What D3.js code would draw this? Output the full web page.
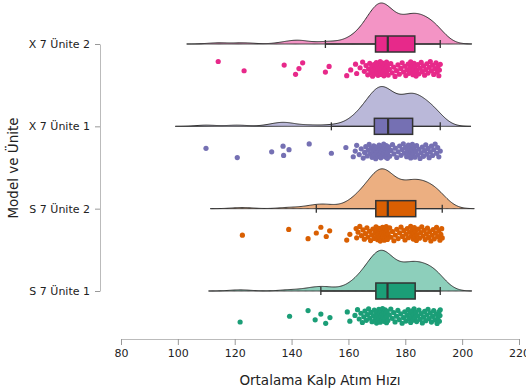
<!DOCTYPE html>
<html>
<head>
<meta charset="utf-8">
<script src="https://cdn.jsdelivr.net/npm/d3@7"></script>
<style>
  body { margin: 0; background: #fff; }
  text { font-family: "DejaVu Sans", sans-serif; }
</style>
</head>
<body>
<svg id="chart" width="526" height="389"></svg>
<script>
// groups, top to bottom
const categories = ["X 7 Ünite 2", "X 7 Ünite 1", "S 7 Ünite 2", "S 7 Ünite 1"];
const colors = ["#e7298a", "#7570b3", "#d95f02", "#1b9e77"];
const xTicks = [80, 100, 120, 140, 160, 180, 200, 220];

// average heart rate per student
const x7u2 = [114.2, 123.3, 137.4, 141.4, 142.6, 143.9, 151.9, 153.2, 159.4, 160.8, 162.5, 162.9,
  164.1, 165.0, 165.6, 166.2, 166.8, 167.1, 167.5, 167.9, 168.2, 168.5, 168.8, 169.0, 169.3,
  169.6, 169.8, 170.0, 170.2, 170.4, 170.5, 170.7, 170.9, 171.0, 171.2, 171.3, 171.5, 171.6,
  171.8, 172.0, 172.1, 172.3, 172.5, 172.7, 172.8, 173.0, 173.2, 173.4, 173.5, 173.7,
  174.0, 174.4, 174.9, 175.4, 175.9, 176.4, 176.9, 177.4, 177.9, 178.4, 178.9, 179.4, 179.8,
  180.2, 180.6, 181.0, 181.3, 181.6, 181.9, 182.2, 182.5, 182.7, 182.9, 183.1, 183.3,
  183.5, 183.8, 184.1, 184.4, 184.8, 185.2, 185.6, 186.0, 186.4, 186.8, 187.2, 187.6, 188.0,
  188.4, 188.8, 189.2, 189.6, 190.0, 190.4, 190.8, 191.2, 191.5, 191.8, 192.0, 192.3];

const x7u1 = [109.9, 120.9, 133.0, 137.0, 137.2, 139.1, 146.2, 154.0, 159.1, 161.7, 162.4, 162.9,
  163.8, 164.5, 165.2, 165.7, 166.1, 166.6, 167.0, 167.3, 167.7, 168.0, 168.3, 168.6, 168.9,
  169.2, 169.4, 169.6, 169.9, 170.1, 170.3, 170.6, 170.8, 171.0, 171.2, 171.4, 171.6, 171.8,
  172.0, 172.2, 172.4, 172.6, 172.8, 173.0, 173.1, 173.3, 173.5, 173.6, 173.7, 173.8,
  174.1, 174.5, 175.0, 175.5, 176.0, 176.5, 177.0, 177.5, 178.0, 178.5, 178.9, 179.3, 179.7,
  180.1, 180.5, 180.8, 181.1, 181.4, 181.7, 181.9, 182.1, 182.2, 182.3, 182.4, 182.5,
  182.8, 183.1, 183.4, 183.7, 184.0, 184.4, 184.8, 185.2, 185.6, 186.0, 186.4, 186.8, 187.2,
  187.6, 188.0, 188.4, 188.8, 189.2, 189.6, 190.0, 190.5, 191.0, 191.4, 191.8, 192.3];

const s7u2 = [122.7, 139.0, 145.8, 148.7, 150.3, 152.2, 153.4, 159.4, 160.5, 162.7, 162.9,
  163.4, 164.0, 164.6, 165.1, 165.6, 166.0, 166.5, 166.9, 167.4, 167.8, 168.2, 168.6, 169.0, 169.4,
  169.7, 169.9, 170.1, 170.3, 170.5, 170.7, 170.9, 171.0, 171.2, 171.4, 171.5, 171.7, 171.9,
  172.0, 172.2, 172.4, 172.6, 172.7, 172.9, 173.0, 173.2, 173.3, 173.5, 173.6, 173.7,
  174.0, 174.5, 175.0, 175.5, 176.0, 176.5, 177.0, 177.5, 178.0, 178.5, 179.0, 179.5, 179.9,
  180.3, 180.7, 181.1, 181.5, 181.9, 182.2, 182.5, 182.8, 183.0, 183.2, 183.4, 183.6,
  183.9, 184.2, 184.6, 185.0, 185.4, 185.8, 186.2, 186.6, 187.0, 187.4, 187.8, 188.2, 188.6,
  189.0, 189.4, 189.8, 190.2, 190.6, 191.0, 191.4, 191.8, 192.2, 192.5, 192.8, 193.0];

const s7u1 = [121.9, 139.3, 145.8, 148.3, 150.3, 152.0, 153.5, 159.6, 160.5, 162.3,
  163.2, 163.8, 164.4, 164.9, 165.4, 165.8, 166.3, 166.7, 167.1, 167.5, 167.9, 168.3, 168.7, 169.1, 169.5,
  169.7, 169.9, 170.0, 170.2, 170.4, 170.5, 170.7, 170.9, 171.0, 171.2, 171.4, 171.5, 171.7,
  171.9, 172.0, 172.2, 172.4, 172.5, 172.7, 172.9, 173.0, 173.2, 173.4, 173.5, 173.6,
  173.9, 174.4, 174.9, 175.4, 175.9, 176.4, 176.9, 177.4, 177.9, 178.4, 178.9, 179.4, 179.8,
  180.2, 180.6, 181.0, 181.3, 181.6, 181.9, 182.2, 182.5, 182.7, 182.9, 183.1, 183.4,
  183.7, 184.0, 184.4, 184.8, 185.2, 185.6, 186.0, 186.4, 186.8, 187.2, 187.6, 188.0, 188.4,
  188.8, 189.2, 189.6, 190.0, 190.4, 190.8, 191.2, 191.5, 191.8, 192.0, 192.2, 192.3];

const seriesValues = [x7u2, x7u1, s7u2, s7u1];

const svg = d3.select("#chart");

const x = d3.scaleLinear().domain([80, 220]).range([121, 519]);
const y = d3.scalePoint().domain(categories).range([44, 291]);

// gaussian kde, nrd0 bandwidth, range widened by 3 bandwidths (untrimmed violin)
function kde(values) {
  const n = values.length;
  const iqr = d3.quantile(values, 0.75) - d3.quantile(values, 0.25);
  const bw = 0.9 * Math.min(d3.deviation(values), iqr / 1.34) * Math.pow(n, -0.2);
  const lo = d3.min(values) - 3 * bw, hi = d3.max(values) + 3 * bw;
  const grid = d3.range(0, 301).map(i => lo + (hi - lo) * i / 300);
  const c = 1 / (n * bw * Math.sqrt(2 * Math.PI));
  return grid.map(g => [g, c * d3.sum(values, v => Math.exp(-0.5 * ((g - v) / bw) ** 2))]);
}

const groups = categories.map((name, i) => {
  const vals = seriesValues[i].slice().sort(d3.ascending);
  const q1 = d3.quantile(vals, 0.25), med = d3.quantile(vals, 0.5), q3 = d3.quantile(vals, 0.75);
  const iqr = q3 - q1;
  const wlo = d3.min(vals.filter(v => v >= q1 - 1.5 * iqr));
  const whi = d3.max(vals.filter(v => v <= q3 + 1.5 * iqr));
  return {name, color: colors[i], vals, dens: kde(vals), q1, med, q3, wlo, whi};
});

const maxDens = d3.max(groups, g => d3.max(g.dens, d => d[1]));
const h = d3.scaleLinear().domain([0, maxDens]).range([0, 41]);

const light = c => d3.interpolateRgb(c, "#fff")(0.5);

const g = svg.append("g");

groups.forEach((gr, gi) => {
  const base = y(gr.name);
  const area = d3.area()
    .x(d => x(d[0]))
    .y0(base)
    .y1(d => base - h(d[1]));

  g.append("path")
    .datum(gr.dens)
    .attr("d", area)
    .attr("fill", light(gr.color))
    .attr("stroke", "#333")
    .attr("stroke-width", 1);

  // whisker line and caps
  g.append("line")
    .attr("x1", x(gr.wlo)).attr("x2", x(gr.whi))
    .attr("y1", base).attr("y2", base)
    .attr("stroke", "#333").attr("stroke-width", 1.3);
  [gr.wlo, gr.whi].forEach(w => {
    g.append("line")
      .attr("x1", x(w)).attr("x2", x(w))
      .attr("y1", base - 4).attr("y2", base + 4)
      .attr("stroke", "#333").attr("stroke-width", 1.3);
  });

  g.append("rect")
    .attr("x", x(gr.q1)).attr("y", base - 8)
    .attr("width", x(gr.q3) - x(gr.q1)).attr("height", 16)
    .attr("fill", gr.color)
    .attr("stroke", "#333").attr("stroke-width", 1.5);

  g.append("line")
    .attr("x1", x(gr.med)).attr("x2", x(gr.med))
    .attr("y1", base - 8).attr("y2", base + 8)
    .attr("stroke", "#333").attr("stroke-width", 2.2);

  // rain: points below the cloud, spread out vertically
  g.selectAll(null)
    .data(gr.vals)
    .enter().append("circle")
    .attr("cx", d => x(d))
    .attr("cy", (d, i) => base + 25 + (((i * 0.618034 + gi * 0.3) % 1) - 0.5) * 15)
    .attr("r", 2.6)
    .attr("fill", gr.color);
});

// axes
svg.append("g")
  .attr("transform", "translate(0,339)")
  .call(d3.axisBottom(x).tickValues(xTicks).tickSize(6).tickSizeOuter(0).tickPadding(4));

svg.append("g")
  .attr("transform", "translate(100,0)")
  .call(d3.axisLeft(y).tickSize(5).tickSizeOuter(0).tickPadding(5));

svg.selectAll(".domain").attr("stroke", "#bbb");
svg.selectAll(".tick line").attr("stroke", "#999");
svg.selectAll(".tick text")
  .attr("fill", "#222")
  .style("font-size", "11px")
  .style("font-family", "DejaVu Sans, sans-serif");

svg.append("text")
  .attr("x", 320).attr("y", 385)
  .attr("text-anchor", "middle")
  .attr("fill", "#222")
  .style("font-size", "13.5px")
  .text("Ortalama Kalp Atım Hızı");

svg.append("text")
  .attr("transform", "translate(18,168) rotate(-90)")
  .attr("text-anchor", "middle")
  .attr("fill", "#222")
  .style("font-size", "13.5px")
  .text("Model ve Ünite");
</script>
</body>
</html>
